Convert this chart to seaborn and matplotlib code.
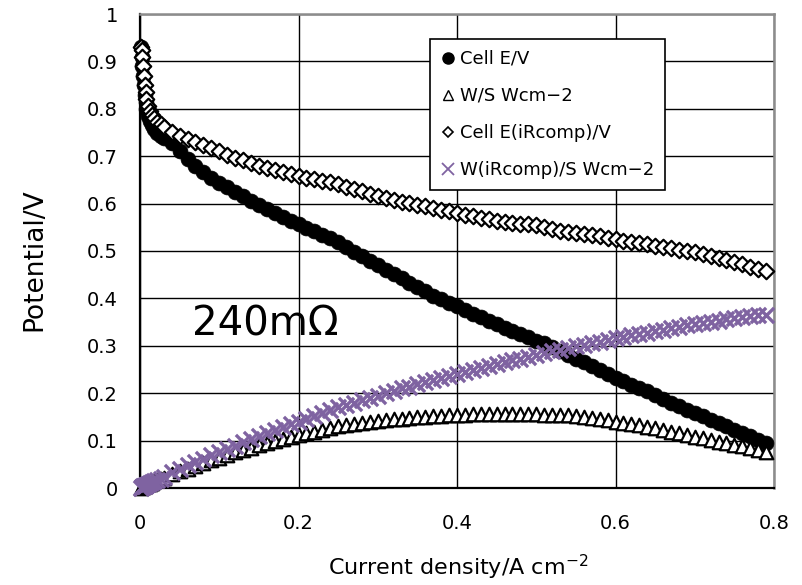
import numpy as np
import pandas as pd
import matplotlib
matplotlib.use("Agg")
import matplotlib.pyplot as plt
from matplotlib.lines import Line2D
import seaborn as sns

# ---------------- data ----------------
current = [0.001, 0.002, 0.003, 0.004, 0.005, 0.006, 0.007, 0.008, 0.010, 0.012,
           0.015, 0.018, 0.022, 0.026, 0.030,
           0.04, 0.05, 0.06, 0.07, 0.08, 0.09, 0.10, 0.11, 0.12, 0.13,
           0.14, 0.15, 0.16, 0.17, 0.18, 0.19, 0.20, 0.21, 0.22, 0.23,
           0.24, 0.25, 0.26, 0.27, 0.28, 0.29, 0.30, 0.31, 0.32, 0.33,
           0.34, 0.35, 0.36, 0.37, 0.38, 0.39, 0.40, 0.41, 0.42, 0.43,
           0.44, 0.45, 0.46, 0.47, 0.48, 0.49, 0.50, 0.51, 0.52, 0.53,
           0.54, 0.55, 0.56, 0.57, 0.58, 0.59, 0.60, 0.61, 0.62, 0.63,
           0.64, 0.65, 0.66, 0.67, 0.68, 0.69, 0.70, 0.71, 0.72, 0.73,
           0.74, 0.75, 0.76, 0.77, 0.78, 0.79]

cell_e = [0.93, 0.91, 0.89, 0.87, 0.85, 0.83, 0.815, 0.80, 0.785, 0.775,
          0.765, 0.758, 0.750, 0.743, 0.738,
          0.727, 0.710, 0.694, 0.680, 0.667, 0.655, 0.644, 0.634, 0.625, 0.615,
          0.606, 0.598, 0.589, 0.580, 0.572, 0.564, 0.556, 0.549, 0.542, 0.534,
          0.527, 0.520, 0.508, 0.498, 0.489, 0.479, 0.470, 0.460, 0.451, 0.442,
          0.433, 0.424, 0.415, 0.406, 0.398, 0.390, 0.383, 0.376, 0.368, 0.361,
          0.353, 0.345, 0.338, 0.331, 0.324, 0.318, 0.311, 0.305, 0.298, 0.289,
          0.281, 0.273, 0.265, 0.257, 0.249, 0.240, 0.232, 0.225, 0.218, 0.211,
          0.204, 0.196, 0.188, 0.180, 0.172, 0.165, 0.158, 0.151, 0.144, 0.137,
          0.130, 0.123, 0.116, 0.109, 0.102, 0.095]

power = [0.001, 0.002, 0.003, 0.003, 0.004, 0.005, 0.006, 0.006, 0.008, 0.009,
         0.011, 0.014, 0.016, 0.019, 0.022,
         0.029, 0.035, 0.041, 0.047, 0.053, 0.059, 0.064, 0.070, 0.075, 0.080,
         0.085, 0.090, 0.094, 0.099, 0.103, 0.107, 0.111, 0.115, 0.119, 0.123,
         0.127, 0.131, 0.133, 0.135, 0.137, 0.139, 0.141, 0.143, 0.145, 0.146,
         0.147, 0.149, 0.150, 0.151, 0.152, 0.153, 0.154, 0.155, 0.156, 0.156,
         0.157, 0.157, 0.157, 0.157, 0.157, 0.156, 0.156, 0.155, 0.155, 0.154,
         0.153, 0.151, 0.149, 0.147, 0.145, 0.143, 0.140, 0.138, 0.135, 0.132,
         0.129, 0.126, 0.122, 0.119, 0.115, 0.112, 0.108, 0.105, 0.101, 0.098,
         0.094, 0.091, 0.088, 0.084, 0.080, 0.075]

cell_e_ir = [0.93, 0.925, 0.91, 0.89, 0.87, 0.85, 0.835, 0.82, 0.805, 0.795,
             0.787, 0.780, 0.773, 0.767, 0.761,
             0.752, 0.743, 0.736, 0.730, 0.724, 0.717, 0.710, 0.703, 0.697, 0.691,
             0.685, 0.680, 0.675, 0.671, 0.667, 0.662, 0.658, 0.654, 0.651, 0.648,
             0.645, 0.641, 0.636, 0.631, 0.626, 0.621, 0.617, 0.612, 0.608, 0.604,
             0.601, 0.597, 0.594, 0.591, 0.587, 0.584, 0.581, 0.577, 0.574, 0.570,
             0.567, 0.564, 0.562, 0.560, 0.558, 0.556, 0.554, 0.551, 0.547, 0.543,
             0.540, 0.537, 0.535, 0.533, 0.531, 0.528, 0.525, 0.522, 0.519, 0.516,
             0.514, 0.511, 0.509, 0.506, 0.503, 0.500, 0.497, 0.493, 0.489, 0.486,
             0.482, 0.477, 0.472, 0.467, 0.462, 0.458]

power_ir = [0.001, 0.002, 0.003, 0.004, 0.004, 0.005, 0.006, 0.007, 0.008, 0.010,
            0.012, 0.014, 0.017, 0.020, 0.023,
            0.034, 0.041, 0.048, 0.055, 0.062, 0.069, 0.076, 0.083, 0.089, 0.096,
            0.103, 0.109, 0.116, 0.122, 0.128, 0.134, 0.140, 0.146, 0.152, 0.158,
            0.164, 0.170, 0.175, 0.180, 0.185, 0.190, 0.195, 0.200, 0.205, 0.210,
            0.214, 0.219, 0.223, 0.227, 0.232, 0.236, 0.240, 0.245, 0.249, 0.253,
            0.257, 0.261, 0.265, 0.269, 0.273, 0.277, 0.281, 0.285, 0.288, 0.292,
            0.295, 0.299, 0.302, 0.306, 0.309, 0.312, 0.316, 0.319, 0.322, 0.325,
            0.328, 0.331, 0.334, 0.337, 0.340, 0.343, 0.346, 0.348, 0.351, 0.353,
            0.356, 0.358, 0.360, 0.362, 0.364, 0.366]

labels = ["Cell E/V", "W/S Wcm\u22122", "Cell E(iRcomp)/V", "W(iRcomp)/S Wcm\u22122"]
x_ticks = [0, 0.2, 0.4, 0.6, 0.8]
x_tick_labels = ["0", "0.2", "0.4", "0.6", "0.8"]
y_ticks = [0, 0.1, 0.2, 0.3, 0.4, 0.5, 0.6, 0.7, 0.8, 0.9, 1.0]
y_tick_labels = ["0", "0.1", "0.2", "0.3", "0.4", "0.5", "0.6", "0.7", "0.8", "0.9", "1"]

df = pd.DataFrame({"i": current, "E": cell_e, "W": power,
                   "Eir": cell_e_ir, "Wir": power_ir})

# ---------------- figure ----------------
sns.set_style("white")
plt.rcParams["font.family"] = ["DejaVu Sans"]
plt.rcParams["text.color"] = "black"
plt.rcParams["axes.labelcolor"] = "black"
plt.rcParams["xtick.color"] = "black"
plt.rcParams["ytick.color"] = "black"

fig = plt.figure(figsize=(8.02, 5.85), dpi=100)
ax = fig.add_axes([140 / 802, 1 - 488 / 585, (774 - 140) / 802, (488 - 14) / 585])

purple = "#7F63A1"

sns.scatterplot(data=df, x="i", y="E", ax=ax, marker="o", s=115,
                color="black", edgecolor="black", linewidth=0.5,
                legend=False, clip_on=False, zorder=3)
sns.scatterplot(data=df, x="i", y="W", ax=ax, marker="^", s=95,
                facecolor="white", edgecolor="black", linewidth=1.6,
                legend=False, clip_on=False, zorder=4)
sns.scatterplot(data=df, x="i", y="Eir", ax=ax, marker="D", s=62,
                facecolor="white", edgecolor="black", linewidth=1.6,
                legend=False, clip_on=False, zorder=5)
sns.scatterplot(data=df, x="i", y="Wir", ax=ax, marker="x", s=120,
                color=purple, linewidth=2.4,
                legend=False, clip_on=False, zorder=6)

ax.set_xlim(0, 0.8)
ax.set_ylim(0, 1.0)
ax.set_xticks(x_ticks)
ax.set_xticklabels(x_tick_labels)
ax.set_yticks(y_ticks)
ax.set_yticklabels(y_tick_labels)
ax.tick_params(axis="x", length=0, pad=19, labelsize=14, colors="black")
ax.tick_params(axis="y", length=0, pad=16, labelsize=14, colors="black")
ax.set_xlabel("")
ax.set_ylabel("")

ax.grid(True, color="black", linewidth=1.0)
ax.set_axisbelow(True)
for side in ["left", "bottom"]:
    ax.spines[side].set_color("black")
    ax.spines[side].set_linewidth(1.6)
for side in ["top", "right"]:
    ax.spines[side].set_color("#8c8c8c")
    ax.spines[side].set_linewidth(1.8)

ax.text(0.066, 0.321, "240m\u03a9", fontsize=29, ha="left", va="baseline",
        color="black", zorder=7)

fig.text(34 / 802, 1 - 260 / 585, "Potential/V", rotation=90,
         ha="center", va="center", fontsize=19, color="black")
fig.text(458 / 802, 1 - 567 / 585, "Current density/A cm$^{-2}$",
         ha="center", va="center", fontsize=16, color="black")

handles = [
    Line2D([], [], linestyle="none", marker="o", markersize=8,
           markerfacecolor="black", markeredgecolor="black"),
    Line2D([], [], linestyle="none", marker="^", markersize=7,
           markerfacecolor="white", markeredgecolor="black", markeredgewidth=1.0),
    Line2D([], [], linestyle="none", marker="D", markersize=5.5,
           markerfacecolor="white", markeredgecolor="black", markeredgewidth=1.2),
    Line2D([], [], linestyle="none", marker="x", markersize=9,
           markeredgecolor=purple, markeredgewidth=1.3),
]
leg = ax.legend(handles, labels, loc="upper left",
                bbox_to_anchor=(0.457, 0.947), fontsize=13,
                frameon=True, fancybox=False, edgecolor="black",
                framealpha=1.0, borderpad=0.6, labelspacing=1.05,
                handlelength=0.8, handletextpad=0.25, borderaxespad=0)
leg.get_frame().set_linewidth(1.2)
leg.set_zorder(10)
for t in leg.get_texts():
    t.set_color("black")

fig.savefig("out.png", dpi=100)
